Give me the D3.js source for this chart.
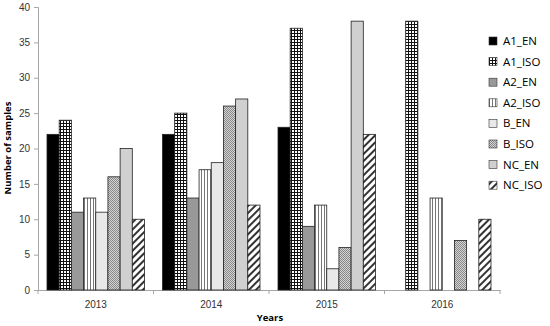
<!DOCTYPE html>
<html><head><meta charset="utf-8">
<script src="https://cdn.jsdelivr.net/npm/d3@7"></script>
<style>body{margin:0;background:#fff;} svg{display:block;font-family:"Open Sans",sans-serif;}</style>
</head><body>
<svg id="c" width="550" height="326"></svg>
<script>
const years = ["2013","2014","2015","2016"];
const seriesNames = ["A1_EN","A1_ISO","A2_EN","A2_ISO","B_EN","B_ISO","NC_EN","NC_ISO"];
const A1_EN  = [22,22,23,0];
const A1_ISO = [24,25,37,38];
const A2_EN  = [11,13,9,0];
const A2_ISO = [13,17,12,13];
const B_EN   = [11,18,3,0];
const B_ISO  = [16,26,6,7];
const NC_EN  = [20,27,38,0];
const NC_ISO = [10,12,22,10];
const yTicks = [0,5,10,15,20,25,30,35,40];

const seriesValues = [A1_EN,A1_ISO,A2_EN,A2_ISO,B_EN,B_ISO,NC_EN,NC_ISO];
const fills = ["#000","url(#pGrid)","#999","url(#pVert)","#e8e8e8","url(#pDot)","#d0d0d0","url(#pDiag)"];

const svg = d3.select("#c");
const defs = svg.append("defs");
let p = defs.append("pattern").attr("id","pGrid").attr("patternUnits","userSpaceOnUse").attr("width",3).attr("height",3);
p.append("rect").attr("width",3).attr("height",3).attr("fill","#fff");
p.append("rect").attr("width",3).attr("height",1).attr("fill","#111");
p.append("rect").attr("width",1).attr("height",3).attr("fill","#111");
p = defs.append("pattern").attr("id","pVert").attr("patternUnits","userSpaceOnUse").attr("width",3).attr("height",3);
p.append("rect").attr("width",3).attr("height",3).attr("fill","#fff");
p.append("rect").attr("width",1).attr("height",3).attr("fill","#777");
p = defs.append("pattern").attr("id","pDot").attr("patternUnits","userSpaceOnUse").attr("width",2).attr("height",2);
p.append("rect").attr("width",2).attr("height",2).attr("fill","#d4d4d4");
p.append("rect").attr("width",1).attr("height",1).attr("fill","#888");
p.append("rect").attr("x",1).attr("y",1).attr("width",1).attr("height",1).attr("fill","#888");
p = defs.append("pattern").attr("id","pDiag").attr("patternUnits","userSpaceOnUse").attr("width",5).attr("height",5).attr("patternTransform","rotate(45)");
p.append("rect").attr("width",5).attr("height",5).attr("fill","#fff");
p.append("rect").attr("width",2).attr("height",5).attr("fill","#333");

const x0 = d3.scaleBand().domain(years).range([38,500]).paddingInner(0.156).paddingOuter(0.078);
const x1 = d3.scaleBand().domain(seriesNames).range([0,x0.bandwidth()]);
const xc = d3.scaleBand().domain(years).range([38,500]);
const y = d3.scaleLinear().domain([0,40]).range([290,7]);

// axes
const yAx = svg.append("g").attr("transform","translate(38,0)")
  .call(d3.axisLeft(y).tickValues(yTicks).tickSize(4).tickPadding(4));
yAx.select(".domain").attr("stroke","#a6a6a6");
yAx.selectAll(".tick line").attr("stroke","#a6a6a6");
yAx.selectAll("text").attr("fill","#333").style("font-size","10px");

const xAx = svg.append("g").attr("transform","translate(0,290)")
  .call(d3.axisBottom(xc).tickSize(0).tickPadding(11));
xAx.select(".domain").attr("stroke","#a6a6a6");
xAx.selectAll("text").attr("fill","#333").style("font-size","10px");
const bounds = [38, ...years.map(d=>xc(d)+xc.bandwidth())];
svg.append("g").selectAll("line").data(bounds).join("line")
  .attr("x1",d=>d).attr("x2",d=>d).attr("y1",290).attr("y2",294).attr("stroke","#a6a6a6");

// bars
seriesNames.forEach((s,i)=>{
  svg.append("g").selectAll("rect").data(seriesValues[i].map((v,j)=>({v,year:years[j]})).filter(d=>d.v>0))
    .join("rect")
    .attr("x",d=>x0(d.year)+x1(s))
    .attr("y",d=>y(d.v))
    .attr("width",x1.bandwidth())
    .attr("height",d=>290-y(d.v))
    .attr("fill",fills[i])
    .attr("stroke","#222").attr("stroke-width",0.8);
});

// legend
const lg = svg.append("g");
seriesNames.forEach((s,i)=>{
  const yy = 41 + i*20.6;
  lg.append("rect").attr("x",489).attr("y",yy-4).attr("width",8).attr("height",8)
    .attr("fill",fills[i]).attr("stroke","#333").attr("stroke-width",0.6);
  lg.append("text").attr("x",503).attr("y",yy).attr("dy","0.35em")
    .style("font-size","11.5px").attr("fill","#000").text(s);
});

svg.append("text").attr("transform","translate(11,148) rotate(-90)").attr("text-anchor","middle")
  .style("font-size","9.5px").style("font-weight","bold").text("Number of samples");
svg.append("text").attr("x",270).attr("y",321).attr("text-anchor","middle")
  .style("font-size","9.5px").style("font-weight","bold").text("Years");
</script>
</body></html>
